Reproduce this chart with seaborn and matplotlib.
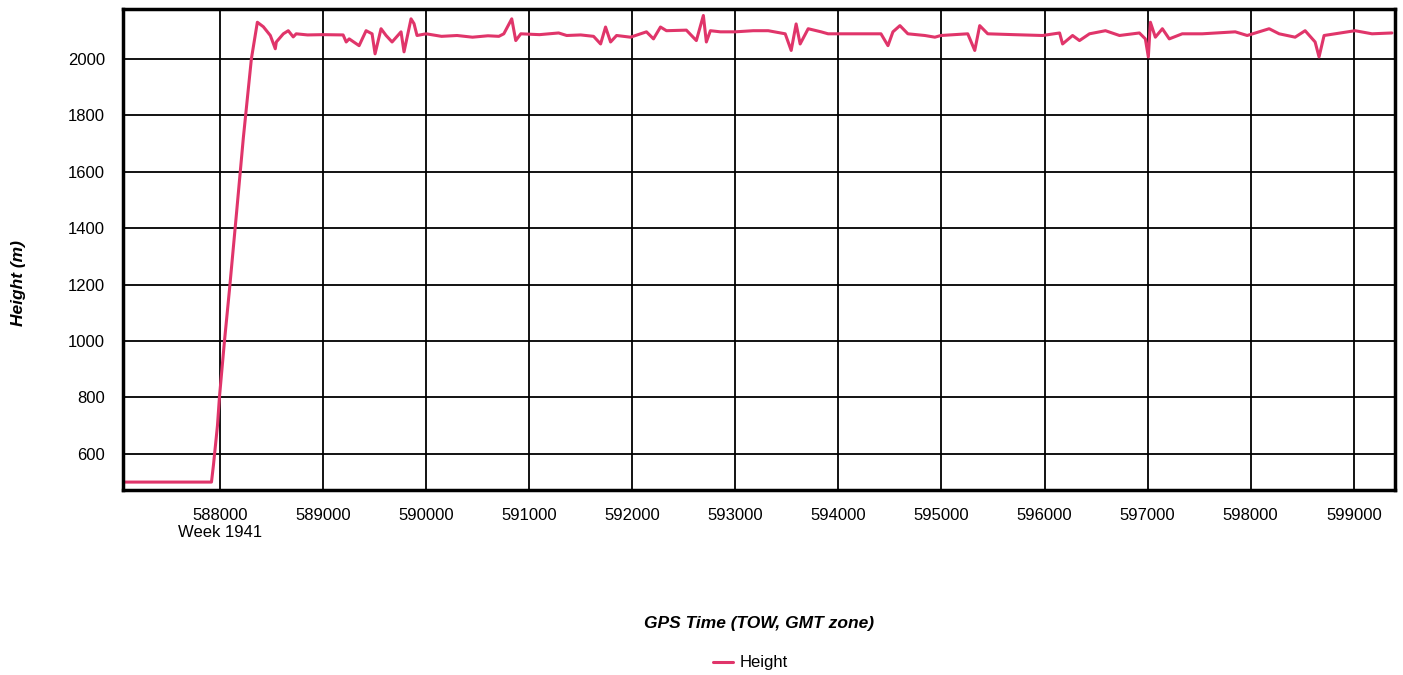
import matplotlib
matplotlib.use("Agg")
import matplotlib.pyplot as plt
import seaborn as sns
import pandas as pd

# GPS time of week (s)
gpsTime = [587060, 587918, 587937, 587976, 587995, 588044, 588092, 588160, 588227, 588305,
           588363, 588421, 588489, 588537, 588547, 588615, 588663, 588711, 588740, 588850,
           589000, 589195, 589225, 589254, 589350, 589418, 589476, 589505, 589563, 589612,
           589670, 589757, 589786, 589854, 589883, 589912, 590000, 590150, 590300, 590450,
           590600, 590706, 590754, 590831, 590870, 590919, 591100, 591286, 591364, 591500,
           591625, 591693, 591741, 591790, 591848, 591983, 592138, 592206, 592274, 592332,
           592525, 592622, 592690, 592719, 592758, 592855, 593000, 593174, 593319, 593484,
           593542, 593590, 593629, 593707, 593832, 593900, 594413, 594481, 594529, 594597,
           594674, 594839, 594936, 594994, 595255, 595323, 595371, 595449, 595700, 595981,
           596146, 596175, 596272, 596339, 596436, 596591, 596727, 596920, 596978, 597007,
           597027, 597075, 597143, 597210, 597336, 597530, 597850, 597966, 598179, 598276,
           598431, 598528, 598625, 598663, 598712, 598818, 599012, 599177, 599370]

# Height (m)
height = [500, 500, 560, 700, 800, 1000, 1180, 1450, 1720, 2000,
          2130, 2114, 2083, 2036, 2060, 2089, 2100, 2078, 2089, 2085,
          2086, 2085, 2060, 2071, 2047, 2100, 2089, 2018, 2107, 2083,
          2060, 2096, 2025, 2142, 2125, 2083, 2089, 2080, 2083, 2077,
          2082, 2080, 2089, 2142, 2065, 2089, 2086, 2092, 2083, 2085,
          2080, 2053, 2113, 2060, 2083, 2077, 2096, 2071, 2113, 2100,
          2102, 2065, 2154, 2060, 2100, 2096, 2096, 2100, 2100, 2089,
          2030, 2124, 2053, 2107, 2096, 2089, 2089, 2047, 2096, 2118,
          2089, 2083, 2077, 2083, 2089, 2030, 2118, 2089, 2086, 2083,
          2092, 2053, 2083, 2065, 2089, 2100, 2083, 2092, 2071, 2007,
          2130, 2077, 2107, 2071, 2089, 2089, 2096, 2083, 2107, 2089,
          2077, 2100, 2060, 2007, 2083, 2089, 2100, 2089, 2092]

xTicks = [588000 + 1000 * i for i in range(12)]
xTickLabels = [str(t) for t in xTicks]
xTickLabels[0] = "588000\nWeek 1941"
yTicks = [600, 800, 1000, 1200, 1400, 1600, 1800, 2000]

df = pd.DataFrame({"GpsTime": gpsTime, "Height": height})

sns.set_style("white")
plt.rcParams["font.family"] = ["Liberation Sans", "DejaVu Sans"]
plt.rcParams["text.color"] = "black"
plt.rcParams["axes.labelcolor"] = "black"
plt.rcParams["xtick.color"] = "black"
plt.rcParams["ytick.color"] = "black"

fig = plt.figure(figsize=(14.03, 6.75), dpi=100)
ax = fig.add_axes([0.0877, 0.2741, 0.9066, 0.7126])

sns.lineplot(x="GpsTime", y="Height", data=df, sort=False, estimator=None,
             color="#e0356a", linewidth=2.2, label="Height", legend=False, ax=ax)

ax.set_xlim(587060, 599400)
ax.set_ylim(472, 2177)
ax.set_xticks(xTicks)
ax.set_xticklabels(xTickLabels, fontsize=12)
ax.set_yticks(yTicks)
ax.set_yticklabels([str(v) for v in yTicks], fontsize=12)
ax.tick_params(axis="both", direction="out", length=5, width=1.2, colors="black", pad=8)

# black grid and heavy frame
ax.grid(True, color="black", linewidth=1.3)
for spine in ax.spines.values():
    spine.set_visible(True)
    spine.set_color("black")
    spine.set_linewidth(2.5)

ax.set_xlabel("GPS Time (TOW, GMT zone)", fontsize=12.5, fontweight="bold", fontstyle="italic")
ax.xaxis.set_label_coords(0.5, -0.262)
ax.set_ylabel("Height (m)", fontsize=12.5, fontweight="bold", fontstyle="italic")
ax.yaxis.set_label_coords(-0.076, 0.43)

handles, labels = ax.get_legend_handles_labels()
fig.legend(handles, labels, loc="center", bbox_to_anchor=(0.535, 0.018), frameon=False,
           fontsize=12, handlelength=1.2, handletextpad=0.4)

fig.savefig("out.png", dpi=100)
